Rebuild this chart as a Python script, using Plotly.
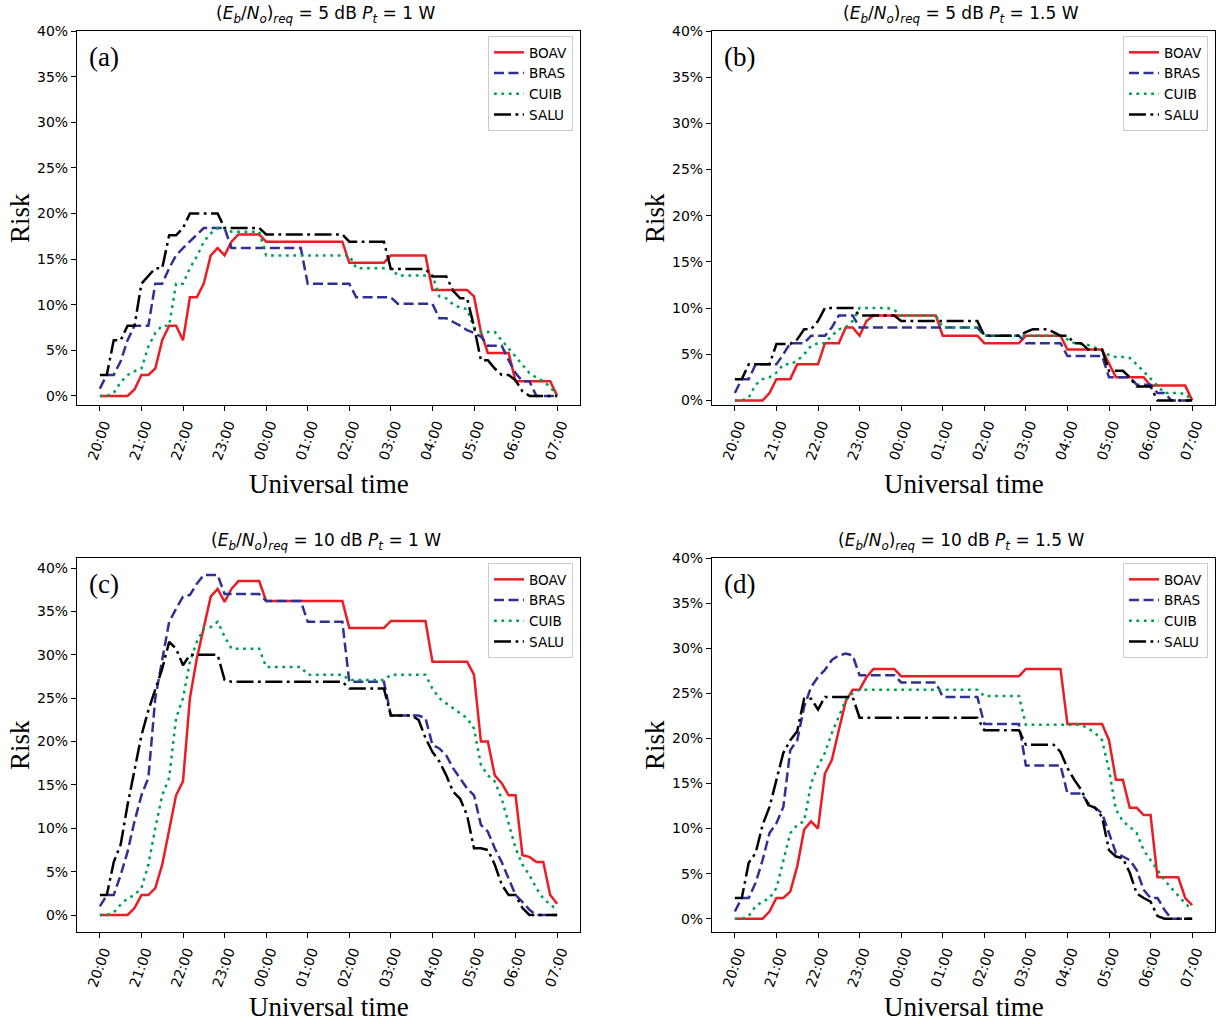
import pandas as pd
import plotly.graph_objects as go

# Sampling grid: every 10 minutes from 20:00 to 07:00 UT (67 samples)
times = pd.date_range("2000-01-01 20:00", "2000-01-02 07:00", freq="10min")

stations = ["BOAV", "BRAS", "CUIB", "SALU"]

# Risk (%) per station; one line per hour (six 10-minute samples), last value at 07:00
# (a) (Eb/No)req = 5 dB, Pt = 1 W
boav_a = [0, 0, 0, 0, 0, 0.7,
          2.3, 2.3, 3.0, 6.1, 7.7, 7.7,
          6.1, 10.8, 10.8, 12.3, 15.4, 16.2,
          15.4, 16.9, 17.7, 17.7, 17.7, 17.7,
          16.9, 16.9, 16.9, 16.9, 16.9, 16.9,
          16.9, 16.9, 16.9, 16.9, 16.9, 16.9,
          14.6, 14.6, 14.6, 14.6, 14.6, 14.6,
          15.4, 15.4, 15.4, 15.4, 15.4, 15.4,
          11.6, 11.6, 11.6, 11.6, 11.6, 11.6,
          10.9, 7.0, 4.7, 4.7, 4.7, 4.7,
          1.6, 1.6, 1.6, 1.6, 1.6, 1.6,
          0]
bras_a = [0.8, 2.3, 2.3, 3.8, 6.1, 7.7,
          7.7, 7.7, 12.3, 12.3, 14.0, 15.4,
          16.2, 16.9, 17.6, 18.4, 18.4, 18.4,
          18.4, 16.2, 16.2, 16.2, 16.2, 16.2,
          16.2, 16.2, 16.2, 16.2, 16.2, 16.2,
          12.3, 12.3, 12.3, 12.3, 12.3, 12.3,
          12.3, 10.8, 10.8, 10.8, 10.8, 10.8,
          10.8, 10.1, 10.1, 10.1, 10.1, 10.1,
          10.1, 8.5, 8.5, 8.1, 7.7, 7.2,
          6.9, 6.5, 5.5, 5.5, 5.5, 3.9,
          2.5, 1.6, 1.6, 0, 0, 0,
          0]
cuib_a = [0, 0, 0.3, 1.5, 2.3, 2.7,
          3.0, 5.4, 6.9, 7.7, 7.7, 12.3,
          12.3, 14.0, 15.3, 16.9, 17.8, 18.4,
          18.4, 18.0, 18.0, 18.0, 18.0, 18.0,
          15.4, 15.4, 15.4, 15.4, 15.4, 15.4,
          15.4, 15.4, 15.4, 15.4, 15.4, 15.4,
          15.4, 14.0, 14.0, 14.0, 14.0, 14.0,
          14.0, 13.2, 13.2, 13.2, 13.2, 13.2,
          13.2, 10.9, 10.7, 10.0, 9.7, 9.5,
          7.5, 7.0, 7.0, 7.0, 6.1, 5.2,
          4.3, 3.3, 2.5, 2.0, 1.6, 1.0,
          0]
salu_a = [2.3, 2.3, 6.1, 6.1, 7.7, 7.7,
          12.3, 13.1, 14.0, 14.0, 17.6, 17.6,
          18.4, 20.0, 20.0, 20.0, 20.0, 20.0,
          18.4, 18.4, 18.4, 18.4, 18.4, 18.4,
          17.7, 17.7, 17.7, 17.7, 17.7, 17.7,
          17.7, 17.7, 17.7, 17.7, 17.7, 17.7,
          16.9, 16.9, 16.9, 16.9, 16.9, 16.9,
          13.9, 13.9, 13.9, 13.9, 13.9, 13.9,
          13.1, 13.1, 13.1, 11.5, 10.7, 10.7,
          7.6, 3.9, 3.9, 3.0, 2.3, 2.3,
          1.7, 0.5, 0, 0, 0, 0,
          0]

# (b) (Eb/No)req = 5 dB, Pt = 1.5 W
boav_b = [0, 0, 0, 0, 0, 0.8,
          2.3, 2.3, 2.3, 3.9, 3.9, 3.9,
          3.9, 6.2, 6.2, 6.2, 7.9, 7.9,
          7.0, 8.6, 9.2, 9.2, 9.2, 9.2,
          9.2, 9.2, 9.2, 9.2, 9.2, 9.2,
          7.0, 7.0, 7.0, 7.0, 7.0, 7.0,
          6.2, 6.2, 6.2, 6.2, 6.2, 6.2,
          7.0, 7.0, 7.0, 7.0, 7.0, 7.0,
          5.5, 5.5, 5.5, 5.5, 5.5, 5.5,
          4.0, 2.5, 2.5, 2.5, 2.5, 2.5,
          1.6, 1.6, 1.6, 1.6, 1.6, 1.6,
          0]
bras_b = [0.8, 2.3, 2.3, 3.9, 3.9, 3.9,
          3.9, 5.0, 6.2, 6.2, 6.2, 7.0,
          7.0, 7.0, 7.9, 9.2, 9.2, 9.2,
          7.9, 7.9, 7.9, 7.9, 7.9, 7.9,
          7.9, 7.9, 7.9, 7.9, 7.9, 7.9,
          7.9, 7.9, 7.9, 7.9, 7.9, 7.9,
          7.0, 7.0, 7.0, 7.0, 7.0, 7.0,
          6.2, 6.2, 6.2, 6.2, 6.2, 6.2,
          4.8, 4.8, 4.8, 4.8, 4.8, 4.8,
          2.5, 2.5, 2.5, 2.5, 1.7, 1.7,
          1.7, 0.8, 0.8, 0, 0, 0,
          0]
cuib_b = [0, 0, 0.3, 1.7, 2.3, 2.5,
          3.0, 3.9, 3.9, 4.3, 5.0, 5.9,
          6.2, 6.2, 7.0, 7.7, 7.9, 8.6,
          10.0, 10.0, 10.0, 10.0, 10.0, 9.8,
          9.2, 9.2, 9.2, 9.2, 9.2, 9.2,
          7.9, 7.9, 7.9, 7.9, 7.9, 7.9,
          7.0, 7.0, 7.0, 7.0, 7.0, 7.0,
          7.0, 7.0, 7.0, 7.0, 7.0, 7.0,
          6.6, 6.2, 6.1, 6.0, 5.7, 5.4,
          4.9, 4.7, 4.7, 4.6, 3.9, 3.1,
          2.3, 1.5, 0.8, 0.8, 0.8, 0.7,
          0]
salu_b = [2.3, 2.3, 3.9, 3.9, 3.9, 3.9,
          6.1, 6.1, 6.1, 6.6, 7.7, 7.7,
          8.6, 10.0, 10.0, 10.0, 10.0, 10.0,
          9.2, 9.2, 9.2, 9.2, 9.2, 9.2,
          8.6, 8.6, 8.6, 8.6, 8.6, 8.6,
          8.6, 8.6, 8.6, 8.6, 8.6, 8.6,
          7.0, 7.0, 7.0, 7.0, 7.0, 7.0,
          7.4, 7.7, 7.7, 7.7, 7.4, 7.0,
          7.0, 6.2, 6.2, 5.5, 5.5, 5.5,
          3.2, 3.2, 3.2, 2.5, 1.5, 1.5,
          1.5, 0, 0, 0, 0, 0,
          0]

# (c) (Eb/No)req = 10 dB, Pt = 1 W
boav_c = [0, 0, 0, 0, 0, 0.8,
          2.3, 2.3, 3.1, 5.8, 9.6, 13.8,
          15.4, 25.0, 29.6, 33.0, 36.7, 37.6,
          36.1, 37.6, 38.5, 38.5, 38.5, 38.5,
          36.2, 36.2, 36.2, 36.2, 36.2, 36.2,
          36.2, 36.2, 36.2, 36.2, 36.2, 36.2,
          33.1, 33.1, 33.1, 33.1, 33.1, 33.1,
          33.9, 33.9, 33.9, 33.9, 33.9, 33.9,
          29.2, 29.2, 29.2, 29.2, 29.2, 29.2,
          27.7, 20.0, 20.0, 16.1, 15.2, 13.8,
          13.8, 6.9, 6.7, 6.1, 6.1, 2.3,
          1.3]
bras_c = [1.0, 2.3, 2.3, 4.6, 7.3, 10.8,
          13.8, 15.8, 25.0, 29.2, 33.8, 35.3,
          36.7, 36.9, 38.2, 39.2, 39.2, 39.2,
          37.0, 37.0, 37.0, 37.0, 37.0, 37.0,
          36.2, 36.2, 36.2, 36.2, 36.2, 36.2,
          33.8, 33.8, 33.8, 33.8, 33.8, 33.8,
          26.9, 26.9, 26.9, 26.9, 26.9, 26.9,
          23.0, 23.0, 23.0, 23.0, 23.0, 22.7,
          19.6, 19.2, 18.4, 16.9, 15.8, 14.6,
          13.8, 10.4, 9.6, 7.7, 6.1, 4.2,
          2.3, 1.5, 0.6, 0, 0, 0,
          0]
cuib_c = [0, 0, 0.3, 1.2, 1.9, 2.3,
          3.1, 5.8, 10.0, 13.8, 15.8, 22.7,
          25.0, 29.2, 31.5, 33.0, 33.2, 33.8,
          32.1, 30.7, 30.7, 30.7, 30.7, 30.7,
          28.6, 28.6, 28.6, 28.6, 28.6, 28.6,
          27.7, 27.7, 27.7, 27.7, 27.7, 27.7,
          27.1, 27.1, 27.1, 27.1, 27.1, 27.1,
          27.7, 27.7, 27.7, 27.7, 27.7, 27.7,
          26.1, 25.0, 24.4, 23.8, 23.2, 22.7,
          21.5, 17.3, 16.1, 15.4, 13.4, 10.4,
          7.7, 5.8, 4.6, 3.1, 1.9, 1.2,
          0.6]
salu_c = [2.3, 2.3, 6.1, 8.1, 12.7, 16.5,
          20.7, 23.6, 25.9, 28.4, 31.5, 30.7,
          28.8, 30.0, 30.0, 30.0, 30.0, 30.0,
          27.1, 26.9, 26.9, 26.9, 26.9, 26.9,
          26.9, 26.9, 26.9, 26.9, 26.9, 26.9,
          26.9, 26.9, 26.9, 26.9, 26.9, 26.9,
          26.1, 26.1, 26.1, 26.1, 26.1, 26.1,
          23.0, 23.0, 23.0, 23.0, 22.5, 20.4,
          18.8, 17.7, 16.1, 14.2, 13.4, 11.5,
          7.7, 7.7, 7.5, 5.8, 3.5, 2.3,
          2.3, 0.8, 0, 0, 0, 0,
          0]

# (d) (Eb/No)req = 10 dB, Pt = 1.5 W
boav_d = [0, 0, 0, 0, 0, 0.8,
          2.3, 2.3, 3.0, 5.8, 9.9, 10.8,
          10.0, 16.1, 17.6, 20.9, 24.1, 25.4,
          25.4, 26.8, 27.7, 27.7, 27.7, 27.7,
          26.9, 26.9, 26.9, 26.9, 26.9, 26.9,
          26.9, 26.9, 26.9, 26.9, 26.9, 26.9,
          26.9, 26.9, 26.9, 26.9, 26.9, 26.9,
          27.7, 27.7, 27.7, 27.7, 27.7, 27.7,
          21.6, 21.6, 21.6, 21.6, 21.6, 21.6,
          19.8, 15.4, 15.4, 12.3, 12.3, 11.5,
          11.5, 4.6, 4.6, 4.6, 4.6, 2.3,
          1.5]
bras_d = [0.8, 2.3, 2.3, 4.0, 6.5, 9.5,
          10.6, 12.4, 18.7, 19.8, 23.5, 25.7,
          26.8, 27.6, 28.7, 29.2, 29.4, 29.2,
          27.0, 27.0, 27.0, 27.0, 27.0, 27.0,
          26.2, 26.2, 26.2, 26.2, 26.2, 26.2,
          24.6, 24.6, 24.6, 24.6, 24.6, 24.6,
          21.6, 21.6, 21.6, 21.6, 21.6, 21.6,
          17.0, 17.0, 17.0, 17.0, 17.0, 17.0,
          13.9, 13.9, 13.9, 12.8, 12.3, 11.7,
          9.5, 7.3, 6.9, 6.5, 5.4, 3.2,
          2.3, 2.3, 1.0, 0, 0, 0,
          0]
cuib_d = [0, 0, 0.3, 1.4, 1.9, 2.3,
          3.4, 6.5, 9.5, 10.4, 10.8, 15.0,
          16.9, 18.4, 20.6, 22.4, 24.3, 25.0,
          25.4, 25.4, 25.4, 25.4, 25.4, 25.4,
          25.4, 25.4, 25.4, 25.4, 25.4, 25.4,
          25.4, 25.4, 25.4, 25.4, 25.4, 25.4,
          24.7, 24.7, 24.7, 24.7, 24.7, 24.7,
          21.5, 21.5, 21.5, 21.5, 21.5, 21.5,
          21.5, 21.5, 21.5, 21.1, 20.6, 19.8,
          16.5, 12.1, 10.8, 10.2, 9.5, 7.6,
          6.5, 5.4, 4.3, 3.4, 2.5, 1.7,
          1.0]
salu_d = [2.3, 2.3, 6.2, 7.3, 10.4, 12.4,
          15.4, 18.4, 19.8, 20.8, 24.4, 24.4,
          23.2, 24.6, 24.6, 24.6, 24.6, 24.6,
          22.3, 22.3, 22.3, 22.3, 22.3, 22.3,
          22.3, 22.3, 22.3, 22.3, 22.3, 22.3,
          22.3, 22.3, 22.3, 22.3, 22.3, 22.3,
          20.9, 20.9, 20.9, 20.9, 20.9, 20.9,
          19.3, 19.3, 19.3, 19.3, 19.3, 18.5,
          16.7, 15.4, 14.3, 12.6, 12.3, 11.3,
          7.6, 6.9, 6.7, 5.1, 2.8, 2.3,
          1.9, 0.3, 0, 0, 0, 0,
          0]

panel_tags = ["(a)", "(b)", "(c)", "(d)"]
panel_titles = [
    "(<i>E</i><sub><i>b</i></sub>/<i>N</i><sub><i>o</i></sub>)<sub><i>req</i></sub> = 5 dB <i>P</i><sub><i>t</i></sub> = 1 W",
    "(<i>E</i><sub><i>b</i></sub>/<i>N</i><sub><i>o</i></sub>)<sub><i>req</i></sub> = 5 dB <i>P</i><sub><i>t</i></sub> = 1.5 W",
    "(<i>E</i><sub><i>b</i></sub>/<i>N</i><sub><i>o</i></sub>)<sub><i>req</i></sub> = 10 dB <i>P</i><sub><i>t</i></sub> = 1 W",
    "(<i>E</i><sub><i>b</i></sub>/<i>N</i><sub><i>o</i></sub>)<sub><i>req</i></sub> = 10 dB <i>P</i><sub><i>t</i></sub> = 1.5 W",
]
panel_data = [
    [boav_a, bras_a, cuib_a, salu_a],
    [boav_b, bras_b, cuib_b, salu_b],
    [boav_c, bras_c, cuib_c, salu_c],
    [boav_d, bras_d, cuib_d, salu_d],
]
y_ticks = [0, 5, 10, 15, 20, 25, 30, 35, 40]
y_tick_text = ["0%", "5%", "10%", "15%", "20%", "25%", "30%", "35%", "40%"]

# Line styles per station
colors = ["#ec1c24", "#2e3192", "#00a04e", "#000000"]
dashes = ["solid", "10px,4.5px", "2.8px,4.6px", "17px,4.5px,2.8px,4.5px"]

W, H = 1216, 1024
# Axes boxes in pixels: (left, right, top, bottom)
boxes = [(77, 580, 31, 405), (712, 1215, 31, 405),
         (77, 580, 558, 932), (712, 1215, 558, 932)]
# Distance from the axes bottom to the x-axis title, per row
xlabel_gap = [79, 79, 75, 75]

fig = go.Figure()

sans = "DejaVu Sans"
serif = "Liberation Serif"

span = times[-1] - times[0]
x_range = [times[0] - span * 0.05, times[-1] + span * 0.05]

annotations = []
for p in range(4):
    ax_id = "" if p == 0 else str(p + 1)
    leg_id = "legend" if p == 0 else f"legend{p + 1}"
    for s, name in enumerate(stations):
        fig.add_trace(go.Scatter(
            x=times, y=panel_data[p][s], mode="lines", name=name,
            line=dict(color=colors[s], width=2.5, dash=dashes[s]),
            xaxis="x" + ax_id, yaxis="y" + ax_id, legend=leg_id,
        ))

    left, right, top, bottom = boxes[p]
    vals = [v for series in panel_data[p] for v in series]
    vmin, vmax = min(vals), max(vals)
    pad = 0.05 * (vmax - vmin)
    y_range = [vmin - pad, max(40, vmax + pad)]

    fig.update_layout(**{
        "xaxis" + ax_id: dict(
            domain=[left / W, right / W], anchor="y" + ax_id,
            range=x_range, type="date", tickformat="%H:%M",
            tick0=times[0], dtick=3600000, tickangle=-70,
            ticklabelshift=4, automargin=False,
            showline=True, mirror=True, linecolor="black", linewidth=1.1,
            ticks="outside", ticklen=5, tickwidth=1.1, tickcolor="black",
            showgrid=False, zeroline=False,
            tickfont=dict(family=sans, size=14, color="black"),
        ),
        "yaxis" + ax_id: dict(
            domain=[1 - bottom / H, 1 - top / H], anchor="x" + ax_id,
            range=y_range, tickvals=y_ticks, ticktext=y_tick_text,
            automargin=False,
            showline=True, mirror=True, linecolor="black", linewidth=1.1,
            ticks="outside", ticklen=5, tickwidth=1.1, tickcolor="black",
            showgrid=False, zeroline=False,
            tickfont=dict(family=sans, size=14, color="black"),
        ),
        leg_id: dict(
            x=(right - 7) / W, y=1 - (top + 5) / H,
            xanchor="right", yanchor="top",
            bgcolor="rgba(255,255,255,0.8)", bordercolor="#cccccc", borderwidth=1,
            font=dict(family=sans, size=13.6, color="black"),
            tracegroupgap=0, itemwidth=30,
        ),
    })

    cx = (left + right) / 2
    annotations.append(dict(
        text=panel_titles[p], x=(cx - 3) / W, y=1 - (top - 17) / H,
        xref="paper", yref="paper", xanchor="center", yanchor="middle",
        showarrow=False, font=dict(family=sans, size=17, color="black"),
    ))
    annotations.append(dict(
        text=panel_tags[p], x=(left + 27) / W, y=1 - (top + 26) / H,
        xref="paper", yref="paper", xanchor="center", yanchor="middle",
        showarrow=False, font=dict(family=serif, size=27, color="black"),
    ))
    annotations.append(dict(
        text="Universal time", x=cx / W, y=1 - (bottom + xlabel_gap[p]) / H,
        xref="paper", yref="paper", xanchor="center", yanchor="middle",
        showarrow=False, font=dict(family=serif, size=27, color="black"),
    ))
    annotations.append(dict(
        text="Risk", x=(left - 57) / W, y=1 - ((top + bottom) / 2) / H,
        xref="paper", yref="paper", xanchor="center", yanchor="middle",
        textangle=-90, showarrow=False,
        font=dict(family=serif, size=27, color="black"),
    ))

fig.update_layout(
    width=W, height=H,
    margin=dict(l=0, r=0, t=0, b=0, autoexpand=False),
    paper_bgcolor="white", plot_bgcolor="white",
    font=dict(family=sans, size=14, color="black"),
    annotations=annotations,
)

fig.write_html("out.html")
